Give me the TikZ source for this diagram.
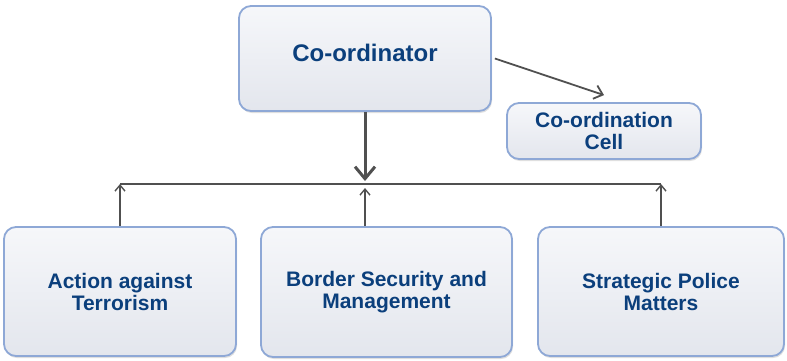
\documentclass[tikz,border=0pt]{standalone}
\usepackage{fontspec}
\setmainfont{Liberation Sans}
\usepackage{tikz}
\usetikzlibrary{arrows.meta, shadows, positioning}
\definecolor{boxline}{HTML}{8EA8D6}
\definecolor{boxtop}{HTML}{F6F7FA}
\definecolor{boxbottom}{HTML}{E3E6ED}
\definecolor{textblue}{HTML}{0B3F7C}
\definecolor{linegray}{HTML}{505050}
\tikzstyle{unit} = [rectangle, rounded corners=12pt, draw=boxline, line width=1.8pt, top color=boxtop, bottom color=boxbottom, drop shadow={shadow xshift=1pt, shadow yshift=-2pt, opacity=0.25}, text=textblue, align=center, inner sep=0pt, font=\bfseries\fontsize{21}{22}\selectfont]
\tikzstyle{arrow} = [line width=1.8pt, draw=linegray, ->, >={Straight Barb[length=8pt,width=14pt]}]
\tikzstyle{downarrow} = [line width=3pt, draw=linegray, ->, >={Straight Barb[length=12pt,width=20pt]}]
\tikzstyle{uparrow} = [line width=1.4pt, draw=linegray, ->, >={Straight Barb[length=6pt,width=10pt]}]
\tikzstyle{link} = [line width=1.4pt, draw=linegray]

\begin{document}
\begin{tikzpicture}[x=1pt, y=-1pt]
\useasboundingbox (0,0) rectangle (787,360);
\node (coord) [unit, minimum width=252pt, minimum height=105pt, text depth=12pt, font=\bfseries\fontsize{24}{28}\selectfont] at (365,58.5) {Co-ordinator};
\node (cell) [unit, minimum width=194pt, minimum height=56pt] at (604,131) {Co-ordination\\Cell};
\node (action) [unit, minimum width=232pt, minimum height=129pt] at (120,291.5) {Action against\\Terrorism};
\node (border) [unit, minimum width=251pt, minimum height=130pt] at (386.5,292) {Border Security and\\Management};
\node (police) [unit, minimum width=246pt, minimum height=129pt] at (661,291.5) {Strategic Police\\Matters};
\coordinate (hub) at (365,184);
% lines between the units
\draw [link] (action.north |- hub) -- (police.north |- hub);
\draw [downarrow] (coord.south -| hub) -- ([yshift=3pt]hub);
\draw [uparrow] (action.north) -- (action.north |- hub);
\draw [uparrow] (border.north -| hub) -- ([yshift=-4pt]hub);
\draw [uparrow] (police.north) -- (police.north |- hub);
\draw [arrow] ([xshift=3pt]coord.east) -- ([yshift=7pt]cell.north);
\end{tikzpicture}
\end{document}
